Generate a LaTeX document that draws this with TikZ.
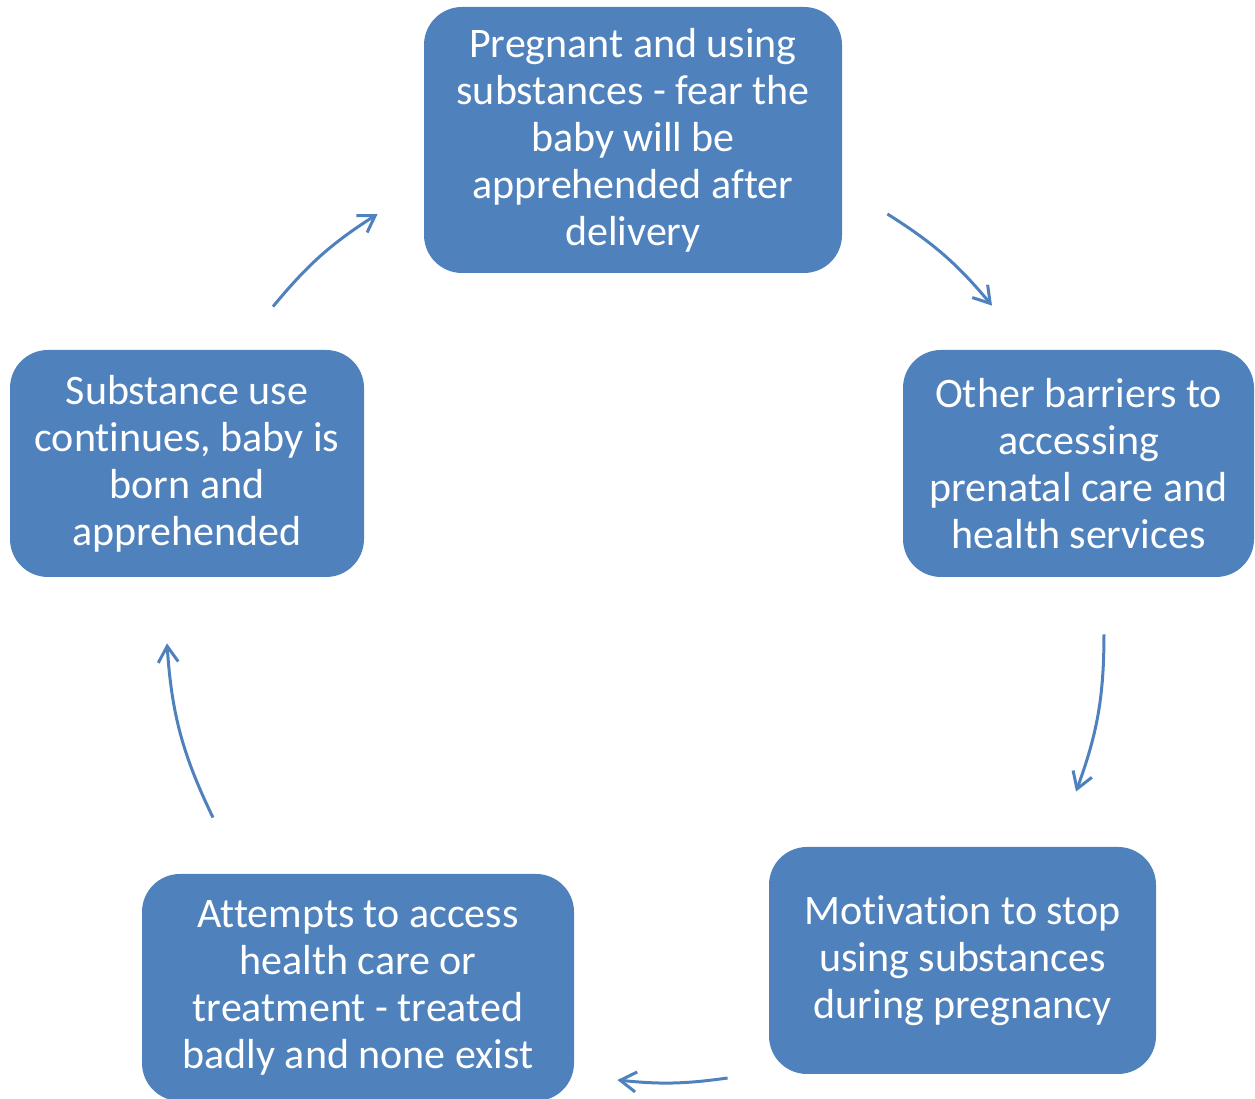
\documentclass[tikz,border=0pt]{standalone}
\usepackage{fontspec}
\setmainfont[Ligatures=NoCommon]{Carlito}
\usetikzlibrary{calc,arrows.meta}
\definecolor{stageblue}{HTML}{4F81BD}

\begin{document}
\begin{tikzpicture}[
      x=0.5pt, y=0.5pt,
      >={Straight Barb[length=8pt,width=10pt]}
    ]

    \tikzstyle{stagebox} = [rectangle, rounded corners=19pt, inner sep=0pt, minimum height=113.5pt, align=center, fill=stageblue, text=white, font=\fontsize{21}{23.5}\selectfont]

    \tikzstyle{cyclearrow} = [->, draw=stageblue, line width=1.5pt]

    \clip (0,0) rectangle (1255,1099);

    \node [stagebox, minimum width=209pt, minimum height=133pt] (pregnant) at (633,959) {Pregnant and using\\ substances - fear the\\ baby will be\\ apprehended after\\ delivery};
    \node [stagebox, minimum width=175.5pt] (barriers) at (1078.5,635.5) {Other barriers to\\ accessing\\ prenatal care and\\ health services};
    \node [stagebox, minimum width=193.5pt] (motivation) at (962.5,138.5) {Motivation to stop\\ using substances\\ during pregnancy};
    \node [stagebox, minimum width=216pt] (attempts) at (358,111.5) {Attempts to access\\ health care or\\ treatment - treated\\ badly and none exist};
    \node [stagebox, minimum width=177pt] (continues) at (187,635.5) {Substance use\\ continues, baby is\\ born and\\ apprehended};

    \coordinate (pregnantOut) at ($(pregnant.east)+(45,-74)$);
    \coordinate (barriersIn) at ($(barriers.north)+(-86.5,44)$);
    \coordinate (barriersOut) at ($(barriers.south)+(25.5,-57)$);
    \coordinate (motivationIn) at ($(motivation.north)+(113.5,55)$);
    \coordinate (motivationOut) at ($(motivation.west)+(-41,-117.5)$);
    \coordinate (attemptsIn) at ($(attempts.east)+(43,-92.5)$);
    \coordinate (attemptsOut) at ($(attempts.north)+(-145,56)$);
    \coordinate (continuesIn) at ($(continues.south)+(-20,-66)$);
    \coordinate (continuesOut) at ($(continues.north)+(86,43)$);
    \coordinate (pregnantIn) at ($(pregnant.west)+(-46,-74)$);

    \draw [cyclearrow] (pregnantOut) to[bend left=9] (barriersIn);
    \draw [cyclearrow] (barriersOut) to[bend left=10] (motivationIn);
    \draw [cyclearrow] (motivationOut) to[bend left=7] (attemptsIn);
    \draw [cyclearrow] (attemptsOut) to[bend left=11] (continuesIn);
    \draw [cyclearrow] (continuesOut) to[bend left=9] (pregnantIn);

\end{tikzpicture}
\end{document}
